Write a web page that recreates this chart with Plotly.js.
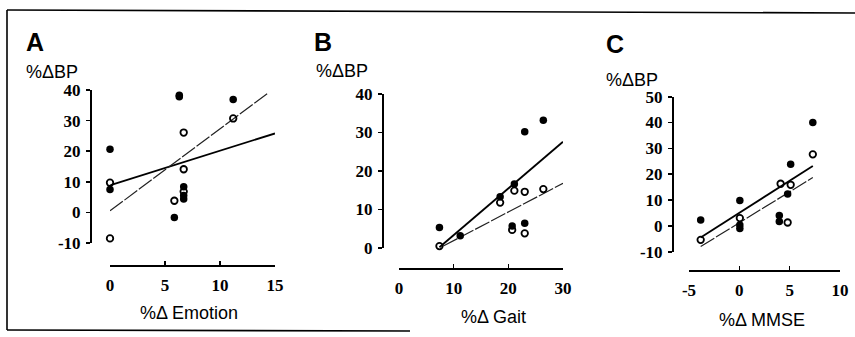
<!DOCTYPE html>
<html>
<head>
<meta charset="utf-8">
<script src="https://cdn.plot.ly/plotly-3.0.1.min.js"></script>
<style>html,body{margin:0;padding:0;background:#fff;}#chart{width:855px;height:337px;}</style>
</head>
<body>
<div id="chart"></div>
<script>
// ---- Panel A: %Δ Emotion vs %ΔBP ----
const aFilledX = [0, 0, 6.3, 6.3, 11.2, 5.85, 6.7, 6.7, 6.7];
const aFilledY = [20.6, 7.5, 37.8, 38.3, 36.9, -1.7, 8.4, 5.5, 4.4];
const aOpenX = [0, 0, 5.85, 6.7, 6.7, 6.7, 11.2];
const aOpenY = [9.7, -8.5, 3.8, 26.1, 14.1, 6.8, 30.7];
const aSolidX = [0.05, 15];
const aSolidY = [8.9, 25.8];
const aDashX = [0, 14.4];
const aDashY = [0.5, 39.1];

// ---- Panel B: %Δ Gait vs %ΔBP ----
const bFilledX = [7.4, 11.2, 18.5, 21.1, 23.0, 26.4, 20.7, 23.0];
const bFilledY = [5.3, 3.2, 13.3, 16.6, 30.2, 33.2, 5.7, 6.4];
const bOpenX = [7.4, 11.2, 18.5, 21.1, 23.0, 26.4, 20.7, 23.0];
const bOpenY = [0.5, -0.1, 11.8, 14.9, 14.6, 15.3, 4.7, 3.8];
const bSolidX = [7.4, 30];
const bSolidY = [0.2, 27.6];
const bDashX = [8.1, 30];
const bDashY = [0.5, 16.8];

// ---- Panel C: %Δ MMSE vs %ΔBP ----
const cFilledX = [-3.84, 0.05, 0.05, 0.05, 3.97, 3.97, 4.8, 5.1, 7.3];
const cFilledY = [2.3, 9.8, 0.3, -1.0, 4.0, 1.7, 12.3, 23.9, 40.0];
const cOpenX = [-3.84, 0.05, 4.1, 5.1, 4.8, 7.3];
const cOpenY = [-5.4, 3.0, 16.3, 15.9, 1.3, 27.7];
const cSolidX = [-3.84, 7.3];
const cSolidY = [-4.5, 23.2];
const cDashX = [-3.84, 7.3];
const cDashY = [-8.0, 18.7];

// tick labels
const aXTicks = [0, 5, 10, 15];
const aYTicks = [-10, 0, 10, 20, 30, 40];
const bXTicks = [0, 10, 20, 30];
const bYTicks = [0, 10, 20, 30, 40];
const cXTicks = [-5, 0, 5, 10];
const cYTicks = [-10, 0, 10, 20, 30, 40, 50];

const panelLetters = ['A', 'B', 'C'];
const yTitle = '%ΔBP';
const xTitles = ['%Δ Emotion', '%Δ Gait', '%Δ MMSE'];

const W = 855, H = 337;
const px = v => v / W;
const py = v => 1 - v / H;

const tickFont = {family: 'Liberation Serif, Times New Roman, serif', size: 17, color: '#000', weight: 'bold'};
const sansFont = {family: 'Liberation Sans, Arial, sans-serif', size: 18, color: '#000'};

function panelTraces(n, fx, fy, ox, oy, sx, sy, dx, dy) {
  const xa = n === 1 ? 'x' : 'x' + n;
  const ya = n === 1 ? 'y' : 'y' + n;
  return [
    {x: sx, y: sy, mode: 'lines', line: {color: '#000', width: 1.8}, xaxis: xa, yaxis: ya, hoverinfo: 'skip'},
    {x: dx, y: dy, mode: 'lines', line: {color: '#222', width: 1.2, dash: '16px,2px'}, xaxis: xa, yaxis: ya, hoverinfo: 'skip'},
    {x: fx, y: fy, mode: 'markers', marker: {symbol: 'circle', size: 7.5, color: '#000'}, cliponaxis: false, xaxis: xa, yaxis: ya},
    {x: ox, y: oy, mode: 'markers', marker: {symbol: 'circle-open', size: 6.5, color: '#000', line: {width: 1.8, color: '#000'}}, cliponaxis: false, xaxis: xa, yaxis: ya}
  ];
}

const data = [].concat(
  panelTraces(1, aFilledX, aFilledY, aOpenX, aOpenY, aSolidX, aSolidY, aDashX, aDashY),
  panelTraces(2, bFilledX, bFilledY, bOpenX, bOpenY, bSolidX, bSolidY, bDashX, bDashY),
  panelTraces(3, cFilledX, cFilledY, cOpenX, cOpenY, cSolidX, cSolidY, cDashX, cDashY)
);

function xAxis(d0, d1, range, pos, ticks) {
  return {domain: [px(d0), px(d1)], range: range, anchor: 'free', position: py(pos),
    showline: true, linecolor: '#000', linewidth: 1.6, ticks: 'inside', ticklen: 4, tickwidth: 1.6, tickcolor: '#000',
    tickvals: ticks, ticktext: ticks.map(String), tickfont: tickFont, ticklabelstandoff: 4,
    showgrid: false, zeroline: false, fixedrange: true};
}
function yAxis(top, bottom, range, pos, ticks) {
  return {domain: [py(bottom), py(top)], range: range, anchor: 'free', position: px(pos),
    showline: true, linecolor: '#000', linewidth: 1.6, ticks: 'outside', ticklen: 4, tickwidth: 1.6, tickcolor: '#000',
    tickvals: ticks, ticktext: ticks.map(String), tickfont: tickFont, ticklabelstandoff: 2,
    showgrid: false, zeroline: false, fixedrange: true};
}

const ann = [];
function addText(text, x, y, font, xanchor) {
  ann.push({text: text, x: px(x), y: py(y), xref: 'paper', yref: 'paper', showarrow: false,
    xanchor: xanchor, yanchor: 'middle', font: font});
}
const letterFont = {family: 'Liberation Sans, Arial, sans-serif', size: 25, color: '#000', weight: 'bold'};
addText(panelLetters[0], 24, 42, letterFont, 'left');
addText(panelLetters[1], 312, 42, letterFont, 'left');
addText(panelLetters[2], 604, 44, letterFont, 'left');
addText(yTitle, 24, 72, sansFont, 'left');
addText(yTitle, 314, 71, sansFont, 'left');
addText(yTitle, 604, 80, sansFont, 'left');
addText(xTitles[0], 189, 313, sansFont, 'center');
addText(xTitles[1], 493, 317, sansFont, 'center');
addText(xTitles[2], 762, 320, sansFont, 'center');

const frame = {color: '#000', width: 1.6};
const shapes = [
  {type: 'line', xref: 'paper', yref: 'paper', x0: px(7), x1: px(7), y0: py(10), y1: py(330), line: frame},
  {type: 'line', xref: 'paper', yref: 'paper', x0: px(7), x1: px(855), y0: py(10), y1: py(13), line: frame},
  {type: 'line', xref: 'paper', yref: 'paper', x0: px(7), x1: px(410), y0: py(330), y1: py(331), line: frame}
];

const layout = {
  width: W, height: H, margin: {l: 0, r: 0, t: 0, b: 0},
  paper_bgcolor: '#fff', plot_bgcolor: 'rgba(0,0,0,0)', showlegend: false,
  xaxis: xAxis(110, 275, [0, 15], 265, aXTicks),
  yaxis: yAxis(90, 243, [-10, 40], 90, aYTicks),
  xaxis2: xAxis(399, 563, [0, 30], 268, bXTicks),
  yaxis2: yAxis(94, 248, [0, 40], 382, bYTicks),
  xaxis3: xAxis(689, 840, [-5, 10], 270, cXTicks),
  yaxis3: yAxis(96.7, 251.7, [-10, 50], 672, cYTicks),
  annotations: ann, shapes: shapes
};

Plotly.newPlot('chart', data, layout, {staticPlot: true});
</script>
</body>
</html>
